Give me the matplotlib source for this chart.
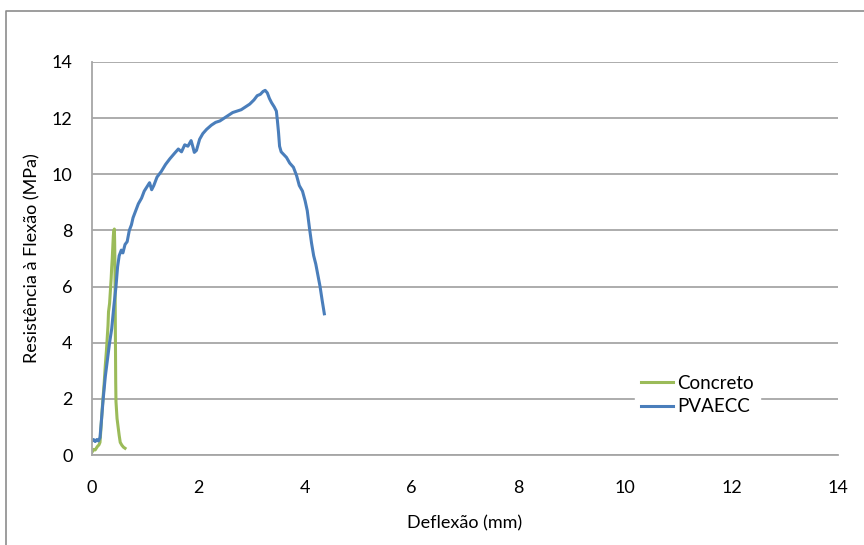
import matplotlib
matplotlib.use("Agg")
import matplotlib.pyplot as plt
from matplotlib.lines import Line2D

# Concrete specimen: deflection (mm) vs flexural strength (MPa)
concreto_x = [0.00, 0.03, 0.06, 0.10, 0.13, 0.15, 0.17, 0.19, 0.21, 0.23, 0.25,
              0.27, 0.28, 0.30, 0.31, 0.33, 0.35, 0.36, 0.37, 0.38, 0.39, 0.40,
              0.41, 0.42, 0.425, 0.43, 0.435, 0.44, 0.445, 0.45, 0.47, 0.49,
              0.51, 0.53, 0.56, 0.59, 0.62]
concreto_y = [0.10, 0.20, 0.18, 0.30, 0.36, 0.45, 1.00, 1.60, 2.10, 2.60, 3.20,
              3.70, 4.00, 4.60, 5.10, 5.40, 6.00, 6.30, 6.70, 7.00, 7.40, 7.80,
              8.00, 8.05, 7.60, 6.80, 5.50, 4.00, 2.60, 1.90, 1.30, 1.00,
              0.70, 0.45, 0.35, 0.28, 0.24]

# PVA-ECC specimen: deflection (mm) vs flexural strength (MPa)
pvaecc_x = [0.00, 0.03, 0.06, 0.09, 0.12, 0.15, 0.18, 0.21, 0.25, 0.29, 0.33,
            0.37, 0.41, 0.45, 0.48, 0.51, 0.55, 0.58, 0.62, 0.66, 0.70, 0.74,
            0.77, 0.82, 0.87, 0.93, 0.98, 1.03, 1.08, 1.12, 1.16, 1.22, 1.30,
            1.38, 1.46, 1.55, 1.62, 1.68, 1.74, 1.80, 1.86, 1.89, 1.92, 1.96,
            2.02, 2.08, 2.15, 2.24, 2.32, 2.40, 2.48, 2.56, 2.64, 2.72, 2.80,
            2.88, 2.96, 3.04, 3.10, 3.16, 3.21, 3.25, 3.29, 3.33, 3.37, 3.42,
            3.46, 3.48, 3.50, 3.52, 3.55, 3.60, 3.65, 3.71, 3.78, 3.84, 3.89,
            3.95, 4.00, 4.04, 4.08, 4.12, 4.16, 4.20, 4.24, 4.28, 4.32, 4.36]
pvaecc_y = [0.50, 0.55, 0.48, 0.55, 0.50, 0.62, 1.30, 2.00, 2.80, 3.40, 4.00,
            4.50, 5.30, 6.00, 6.70, 7.10, 7.30, 7.20, 7.50, 7.60, 8.00, 8.20,
            8.45, 8.70, 8.95, 9.15, 9.40, 9.55, 9.70, 9.45, 9.60, 9.90, 10.10,
            10.35, 10.55, 10.75, 10.90, 10.80, 11.05, 11.00, 11.20, 11.00, 10.78, 10.85,
            11.25, 11.45, 11.60, 11.75, 11.85, 11.90, 12.00, 12.10, 12.20, 12.25, 12.30,
            12.40, 12.50, 12.65, 12.80, 12.85, 12.95, 12.99, 12.90, 12.70, 12.55, 12.40,
            12.25, 11.90, 11.50, 11.00, 10.80, 10.70, 10.60, 10.40, 10.25, 9.95, 9.60,
            9.40, 9.05, 8.70, 8.10, 7.55, 7.10, 6.80, 6.40, 6.00, 5.50, 5.03]

x_ticks = [0, 2, 4, 6, 8, 10, 12, 14]
y_ticks = [0, 2, 4, 6, 8, 10, 12, 14]

green = "#9BBB59"
blue = "#4A7EBB"
grid_grey = "#A6A6A6"

plt.rcParams["font.family"] = ["Lato", "DejaVu Sans"]

fig = plt.figure(figsize=(8.64, 5.45), dpi=100)
ax = fig.add_axes([92 / 864, 90 / 545, 746 / 864, 393 / 545])

ax.plot(concreto_x, concreto_y, color=green, lw=2.2, label="Concreto",
        solid_joinstyle="round")
ax.plot(pvaecc_x, pvaecc_y, color=blue, lw=2.2, label="PVAECC",
        solid_joinstyle="round")

ax.set_xlim(0, 14)
ax.set_ylim(0, 14)
ax.set_xticks(x_ticks)
ax.set_yticks(y_ticks)
ax.tick_params(length=0, labelsize=13, colors="#000000", pad=14)
ax.tick_params(axis="x", pad=18)
ax.grid(axis="y", color=grid_grey, lw=1.3)
ax.set_axisbelow(True)
for side in ("top", "right"):
    ax.spines[side].set_visible(False)
for side in ("left", "bottom"):
    ax.spines[side].set_color(grid_grey)
    ax.spines[side].set_linewidth(1.3)

ax.set_xlabel("Deflexão (mm)", fontsize=13, labelpad=14)
ax.set_ylabel("Resistência à Flexão (MPa)", fontsize=13, labelpad=8)

handles = [Line2D([], [], color=green, lw=2.2),
           Line2D([], [], color=blue, lw=2.2)]
leg = fig.legend(handles, ["Concreto", "PVAECC"], loc="center left",
                 bbox_to_anchor=(626 / 864, 1 - 395 / 545), frameon=True,
                 fontsize=13.5, handlelength=1.7, handletextpad=0.25,
                 labelspacing=0.35, borderpad=0.3)
leg.get_frame().set_edgecolor("white")
leg.get_frame().set_facecolor("white")
leg.get_frame().set_alpha(1)

# chart-area border
fig.add_artist(Line2D([6 / 864, 6 / 864, 1.0], [0, 1 - 11 / 545, 1 - 11 / 545],
                      transform=fig.transFigure, color="#8C8C8C", lw=1.2))

fig.savefig("out.png", dpi=100)
